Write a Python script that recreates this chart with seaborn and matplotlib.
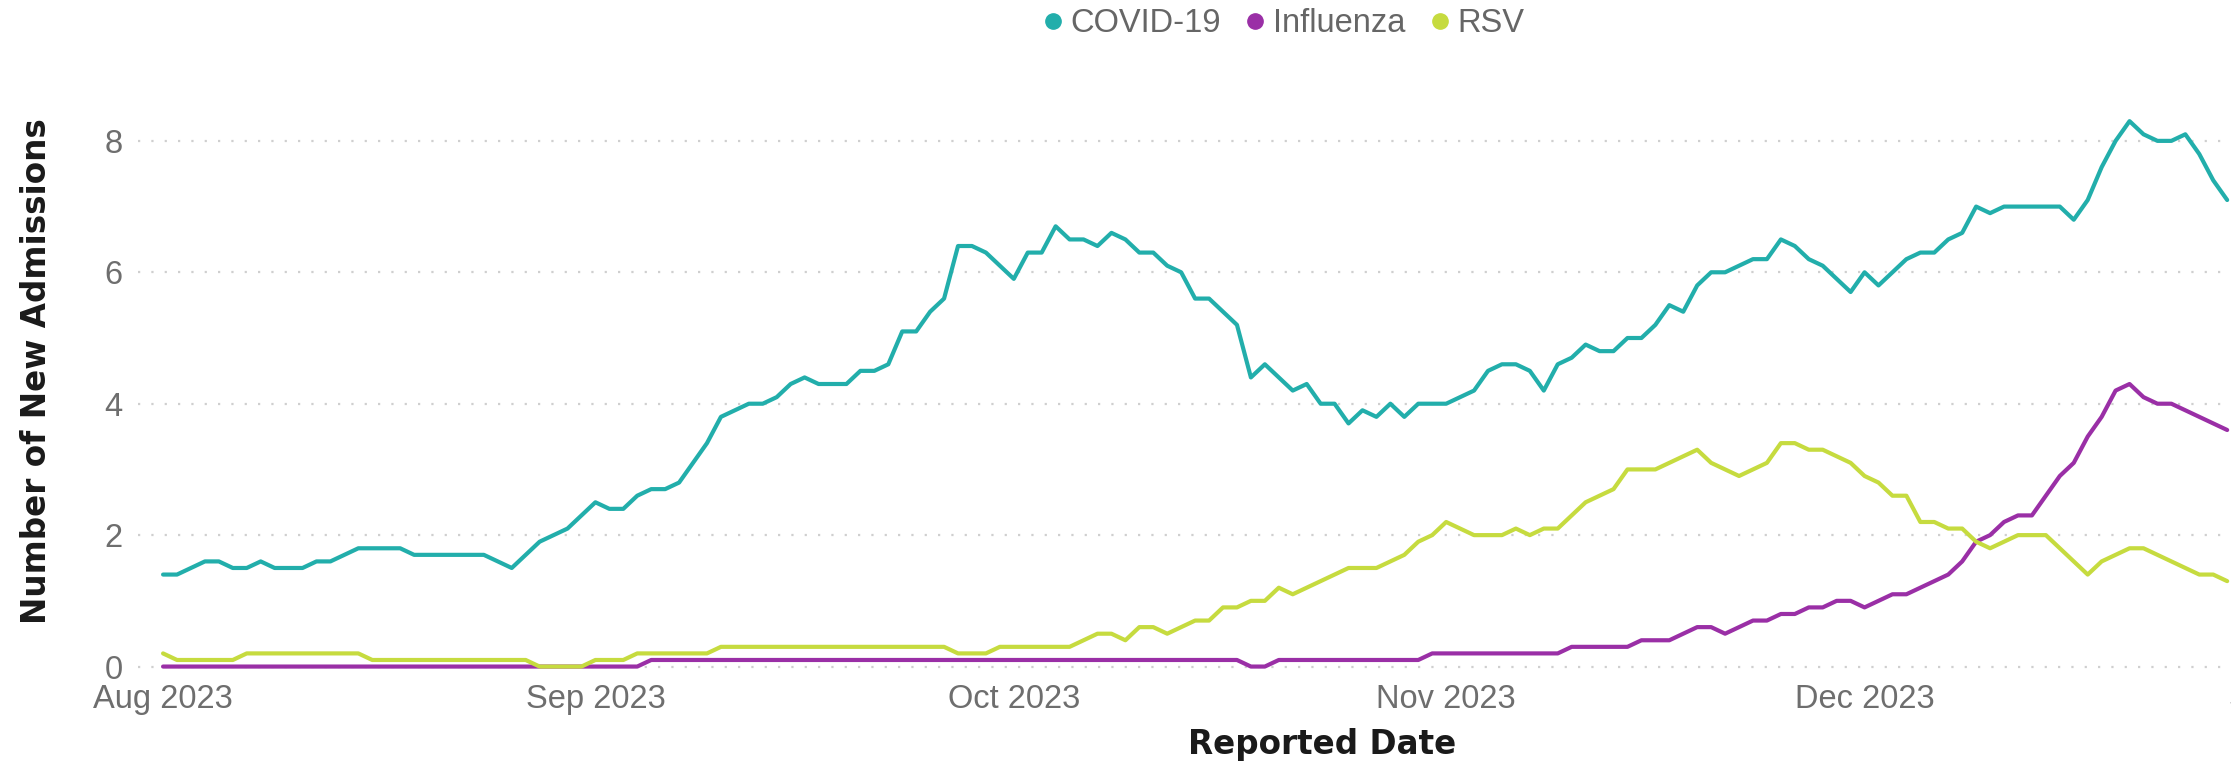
import numpy as np
import pandas as pd
import seaborn as sns
import matplotlib.pyplot as plt
import matplotlib.dates as mdates
from matplotlib.lines import Line2D

# daily new admissions, starting 1 Aug 2023
start_date = "2023-08-01"

covid = [
    1.4, 1.4, 1.5, 1.6, 1.6, 1.5, 1.5, 1.6, 1.5, 1.5,
    1.5, 1.6, 1.6, 1.7, 1.8, 1.8, 1.8, 1.8, 1.7, 1.7,
    1.7, 1.7, 1.7, 1.7, 1.6, 1.5, 1.7, 1.9, 2.0, 2.1,
    2.3, 2.5, 2.4, 2.4, 2.6, 2.7, 2.7, 2.8, 3.1, 3.4,
    3.8, 3.9, 4.0, 4.0, 4.1, 4.3, 4.4, 4.3, 4.3, 4.3,
    4.5, 4.5, 4.6, 5.1, 5.1, 5.4, 5.6, 6.4, 6.4, 6.3,
    6.1, 5.9, 6.3, 6.3, 6.7, 6.5, 6.5, 6.4, 6.6, 6.5,
    6.3, 6.3, 6.1, 6.0, 5.6, 5.6, 5.4, 5.2, 4.4, 4.6,
    4.4, 4.2, 4.3, 4.0, 4.0, 3.7, 3.9, 3.8, 4.0, 3.8,
    4.0, 4.0, 4.0, 4.1, 4.2, 4.5, 4.6, 4.6, 4.5, 4.2,
    4.6, 4.7, 4.9, 4.8, 4.8, 5.0, 5.0, 5.2, 5.5, 5.4,
    5.8, 6.0, 6.0, 6.1, 6.2, 6.2, 6.5, 6.4, 6.2, 6.1,
    5.9, 5.7, 6.0, 5.8, 6.0, 6.2, 6.3, 6.3, 6.5, 6.6,
    7.0, 6.9, 7.0, 7.0, 7.0, 7.0, 7.0, 6.8, 7.1, 7.6,
    8.0, 8.3, 8.1, 8.0, 8.0, 8.1, 7.8, 7.4, 7.1,
]

influenza = [
    0.0, 0.0, 0.0, 0.0, 0.0, 0.0, 0.0, 0.0, 0.0, 0.0,
    0.0, 0.0, 0.0, 0.0, 0.0, 0.0, 0.0, 0.0, 0.0, 0.0,
    0.0, 0.0, 0.0, 0.0, 0.0, 0.0, 0.0, 0.0, 0.0, 0.0,
    0.0, 0.0, 0.0, 0.0, 0.0, 0.1, 0.1, 0.1, 0.1, 0.1,
    0.1, 0.1, 0.1, 0.1, 0.1, 0.1, 0.1, 0.1, 0.1, 0.1,
    0.1, 0.1, 0.1, 0.1, 0.1, 0.1, 0.1, 0.1, 0.1, 0.1,
    0.1, 0.1, 0.1, 0.1, 0.1, 0.1, 0.1, 0.1, 0.1, 0.1,
    0.1, 0.1, 0.1, 0.1, 0.1, 0.1, 0.1, 0.1, 0.0, 0.0,
    0.1, 0.1, 0.1, 0.1, 0.1, 0.1, 0.1, 0.1, 0.1, 0.1,
    0.1, 0.2, 0.2, 0.2, 0.2, 0.2, 0.2, 0.2, 0.2, 0.2,
    0.2, 0.3, 0.3, 0.3, 0.3, 0.3, 0.4, 0.4, 0.4, 0.5,
    0.6, 0.6, 0.5, 0.6, 0.7, 0.7, 0.8, 0.8, 0.9, 0.9,
    1.0, 1.0, 0.9, 1.0, 1.1, 1.1, 1.2, 1.3, 1.4, 1.6,
    1.9, 2.0, 2.2, 2.3, 2.3, 2.6, 2.9, 3.1, 3.5, 3.8,
    4.2, 4.3, 4.1, 4.0, 4.0, 3.9, 3.8, 3.7, 3.6,
]

rsv = [
    0.2, 0.1, 0.1, 0.1, 0.1, 0.1, 0.2, 0.2, 0.2, 0.2,
    0.2, 0.2, 0.2, 0.2, 0.2, 0.1, 0.1, 0.1, 0.1, 0.1,
    0.1, 0.1, 0.1, 0.1, 0.1, 0.1, 0.1, 0.0, 0.0, 0.0,
    0.0, 0.1, 0.1, 0.1, 0.2, 0.2, 0.2, 0.2, 0.2, 0.2,
    0.3, 0.3, 0.3, 0.3, 0.3, 0.3, 0.3, 0.3, 0.3, 0.3,
    0.3, 0.3, 0.3, 0.3, 0.3, 0.3, 0.3, 0.2, 0.2, 0.2,
    0.3, 0.3, 0.3, 0.3, 0.3, 0.3, 0.4, 0.5, 0.5, 0.4,
    0.6, 0.6, 0.5, 0.6, 0.7, 0.7, 0.9, 0.9, 1.0, 1.0,
    1.2, 1.1, 1.2, 1.3, 1.4, 1.5, 1.5, 1.5, 1.6, 1.7,
    1.9, 2.0, 2.2, 2.1, 2.0, 2.0, 2.0, 2.1, 2.0, 2.1,
    2.1, 2.3, 2.5, 2.6, 2.7, 3.0, 3.0, 3.0, 3.1, 3.2,
    3.3, 3.1, 3.0, 2.9, 3.0, 3.1, 3.4, 3.4, 3.3, 3.3,
    3.2, 3.1, 2.9, 2.8, 2.6, 2.6, 2.2, 2.2, 2.1, 2.1,
    1.9, 1.8, 1.9, 2.0, 2.0, 2.0, 1.8, 1.6, 1.4, 1.6,
    1.7, 1.8, 1.8, 1.7, 1.6, 1.5, 1.4, 1.4, 1.3,
]

series_names = ["COVID-19", "Influenza", "RSV"]
series_colors = ["#22AEAB", "#9A2FA6", "#C6DB3F"]
y_ticks = [0, 2, 4, 6, 8]

# long format for seaborn
dates = pd.date_range(start_date, periods=len(covid), freq="D")
df = pd.DataFrame({"date": dates, "COVID-19": covid, "Influenza": influenza, "RSV": rsv})
long_df = df.melt(id_vars="date", var_name="series", value_name="admissions")

sns.set_theme(style="white")
plt.rcParams["font.family"] = ["Liberation Sans", "DejaVu Sans"]

fig = plt.figure(figsize=(22.31, 7.65), dpi=100)
# axes run past the right edge, the original chart is cropped there
ax = fig.add_axes([0.0619, 0.1201, 1.0139, 0.7387])

sns.lineplot(data=long_df, x="date", y="admissions", hue="series",
             hue_order=series_names, palette=series_colors,
             linewidth=3.0, legend=False, ax=ax)

t0 = pd.Timestamp(start_date)
ax.set_xlim(t0 - pd.Timedelta(days=1.79), t0 + pd.Timedelta(days=160.4))
ax.set_ylim(-0.1, 8.5)
ax.set_yticks(y_ticks)
ax.xaxis.set_major_locator(mdates.MonthLocator())
ax.xaxis.set_major_formatter(mdates.DateFormatter("%b %Y"))

ax.grid(axis="y", color="#CFCFCF", linestyle=(0, (1, 5)), linewidth=1.6)
ax.grid(axis="x", visible=False)
for s in ax.spines.values():
    s.set_visible(False)

ax.tick_params(axis="both", length=0, labelsize=23.5, labelcolor="#6E6E6E")
ax.tick_params(axis="x", pad=8)
ax.tick_params(axis="y", pad=11)

ax.set_xlabel("Reported Date", fontsize=23.5, fontweight="bold",
              family="DejaVu Sans", color="#1A1A1A")
ax.xaxis.set_label_coords(0.5234, -0.097)
ax.set_ylabel("Number of New Admissions", fontsize=23.5, fontweight="bold",
              family="DejaVu Sans", color="#1A1A1A")
ax.yaxis.set_label_coords(-0.0376, 0.5346)

# legend with round markers at the top
handles = [Line2D([], [], marker="o", linestyle="none", markersize=11,
                  markerfacecolor=c, markeredgecolor=c) for c in series_colors]
fig.legend(handles=handles, labels=series_names, loc="center",
           bbox_to_anchor=(1283 / 2231, 1 - 24 / 765), ncol=3, frameon=False,
           fontsize=23.5, handlelength=0.7, handletextpad=0.2, columnspacing=0.7,
           labelcolor="#666666")

fig.savefig("out.png", dpi=100)
